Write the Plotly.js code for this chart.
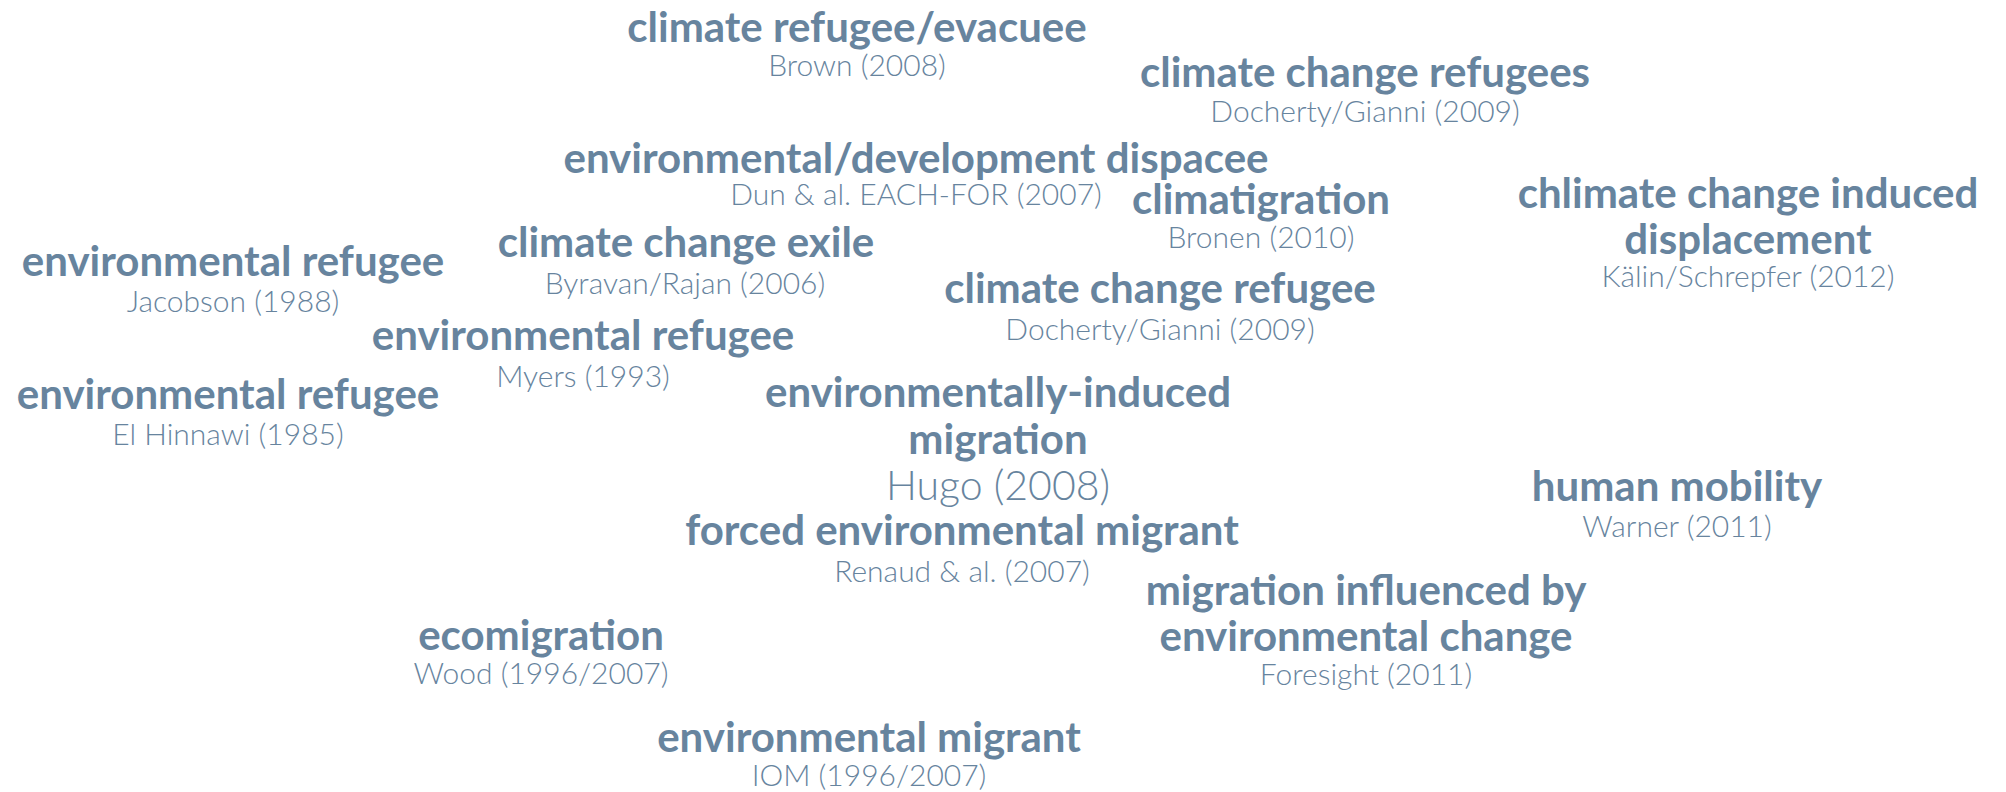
<!DOCTYPE html>
<html>
<head>
<meta charset="utf-8">
<script src="https://cdn.plot.ly/plotly-3.0.1.min.js"></script>
<style>html,body{margin:0;padding:0;background:#fff;}#chart{width:2006px;height:792px;}</style>
</head>
<body>
<div id="chart"></div>
<script>
// Terms (concepts), one entry per printed line, with placement in the cloud
const termLines = [
  "climate refugee/evacuee",
  "climate change refugees",
  "environmental/development dispacee",
  "climatigration",
  "chlimate change induced",
  "displacement",
  "climate change exile",
  "environmental refugee",
  "climate change refugee",
  "environmental refugee",
  "environmental refugee",
  "environmentally-induced",
  "migration",
  "forced environmental migrant",
  "human mobility",
  "migration influenced by",
  "environmental change",
  "ecomigration",
  "environmental migrant"
];
const termX = [857, 1365, 916, 1261, 1748, 1748, 686, 233, 1160, 583, 228, 998, 998, 962, 1677, 1366, 1366, 541, 869];
const termY = [31, 76, 162, 203, 197, 243, 246, 265, 292, 339, 398, 396, 443, 534, 490, 594, 640, 639, 741];

// Authors (sources) of each term
const authors = [
  "Brown (2008)",
  "Docherty/Gianni (2009)",
  "Dun & al. EACH-FOR (2007)",
  "Bronen (2010)",
  "Kälin/Schrepfer (2012)",
  "Byravan/Rajan (2006)",
  "Jacobson (1988)",
  "Docherty/Gianni (2009)",
  "Myers (1993)",
  "El Hinnawi (1985)",
  "Hugo (2008)",
  "Renaud & al. (2007)",
  "Warner (2011)",
  "Foresight (2011)",
  "Wood (1996/2007)",
  "IOM (1996/2007)"
];
const authorX = [857, 1365, 916, 1261, 1748, 685, 233, 1160, 583, 228, 998, 962, 1677, 1366, 541, 869];
const authorY = [68, 114, 197, 240, 279, 286, 304, 332, 379, 437, 490, 574, 529, 677, 676, 778];
const authorSize = [30, 30, 30, 30, 30, 30, 30, 30, 30, 30, 41, 30, 30, 30, 30, 30];

const color = "#67849e";

const data = [
  {
    type: "scatter", mode: "text",
    x: termX, y: termY, text: termLines,
    textposition: "middle center",
    textfont: {family: "Lato, 'Open Sans', sans-serif", size: 42, color: color, weight: 700},
    hoverinfo: "skip", showlegend: false
  },
  {
    type: "scatter", mode: "text",
    x: authorX, y: authorY, text: authors,
    textposition: "middle center",
    textfont: {family: "Lato, 'Open Sans', sans-serif", size: authorSize, color: color, weight: 300},
    hoverinfo: "skip", showlegend: false
  }
];

const layout = {
  width: 2006, height: 792,
  margin: {l: 0, r: 0, t: 0, b: 0},
  paper_bgcolor: "#ffffff", plot_bgcolor: "#ffffff",
  xaxis: {range: [0, 2006], visible: false, fixedrange: true},
  yaxis: {range: [792, 0], visible: false, fixedrange: true},
  showlegend: false
};

Plotly.newPlot("chart", data, layout, {staticPlot: true, displayModeBar: false});
</script>
</body>
</html>
